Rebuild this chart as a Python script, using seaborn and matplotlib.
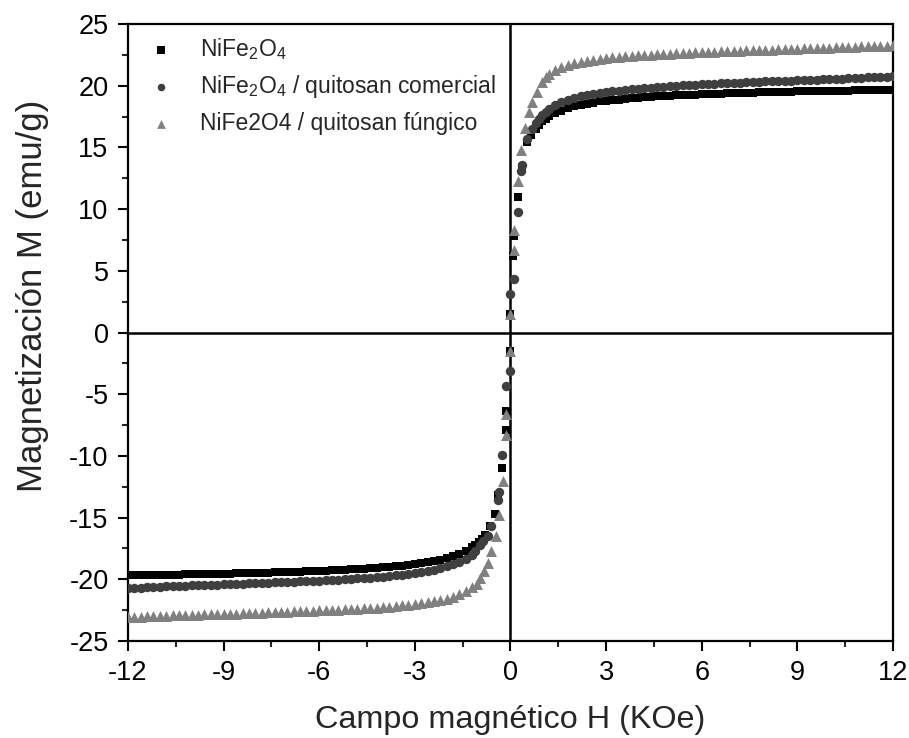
import matplotlib
matplotlib.use("Agg")
import matplotlib.pyplot as plt
from matplotlib.ticker import MultipleLocator
import seaborn as sns
import pandas as pd

# ---------------- data ----------------
labels = [r"NiFe$_2$O$_4$",
          r"NiFe$_2$O$_4$ / quitosan comercial",
          "NiFe2O4 / quitosan fúngico"]

# high-field grid (kOe)
H_hi_pos = [1.2, 1.4, 1.6, 1.8, 2.0, 2.2, 2.4, 2.6, 2.8, 3.0, 3.2, 3.4, 3.6, 3.8, 4.0,
            4.2, 4.4, 4.6, 4.8, 5.0, 5.2, 5.4, 5.6, 5.8, 6.0, 6.2, 6.4, 6.6, 6.8, 7.0,
            7.2, 7.4, 7.6, 7.8, 8.0, 8.2, 8.4, 8.6, 8.8, 9.0, 9.2, 9.4, 9.6, 9.8, 10.0,
            10.2, 10.4, 10.6, 10.8, 11.0, 11.2, 11.4, 11.6, 11.8, 12.0]
H_hi_neg = [-1.2, -1.4, -1.6, -1.8, -2.0, -2.2, -2.4, -2.6, -2.8, -3.0, -3.2, -3.4, -3.6, -3.8, -4.0,
            -4.2, -4.4, -4.6, -4.8, -5.0, -5.2, -5.4, -5.6, -5.8, -6.0, -6.2, -6.4, -6.6, -6.8, -7.0,
            -7.2, -7.4, -7.6, -7.8, -8.0, -8.2, -8.4, -8.6, -8.8, -9.0, -9.2, -9.4, -9.6, -9.8, -10.0,
            -10.2, -10.4, -10.6, -10.8, -11.0, -11.2, -11.4, -11.6, -11.8, -12.0]

# NiFe2O4 (black squares)
s1_H_low_pos = [0.0, 0.09, 0.12, 0.23, 0.35, 0.53, 0.65, 0.8, 0.9, 1.0, 1.1]
s1_M_low_pos = [1.5, 6.2, 7.8, 11.0, 13.4, 15.4, 16.0, 16.5, 16.8, 17.1, 17.3]
s1_H_low_neg = [-0.02, -0.13, -0.15, -0.27, -0.38, -0.5, -0.65, -0.8, -0.9, -1.0, -1.1]
s1_M_low_neg = [-1.5, -6.4, -7.9, -11.0, -13.2, -14.7, -15.7, -16.4, -16.7, -17.0, -17.2]
s1_M_hi_pos = [17.52, 17.77, 17.97, 18.17, 18.33, 18.43, 18.53, 18.63, 18.73, 18.78, 18.83, 18.88, 18.93, 18.98, 19.04,
               19.07, 19.1, 19.14, 19.16, 19.19, 19.21, 19.24, 19.26, 19.28, 19.3, 19.32, 19.34, 19.36, 19.37, 19.39,
               19.41, 19.42, 19.44, 19.45, 19.46, 19.48, 19.49, 19.5, 19.52, 19.53, 19.54, 19.55, 19.56, 19.57, 19.58,
               19.59, 19.6, 19.61, 19.62, 19.63, 19.64, 19.65, 19.66, 19.67, 19.68]
s1_M_hi_neg = [-17.42, -17.72, -17.92, -18.12, -18.28, -18.43, -18.53, -18.63, -18.71, -18.78, -18.83, -18.89, -18.94, -18.99, -19.04,
               -19.08, -19.11, -19.14, -19.17, -19.2, -19.22, -19.24, -19.27, -19.29, -19.31, -19.33, -19.35, -19.37, -19.38, -19.4,
               -19.42, -19.43, -19.45, -19.46, -19.47, -19.49, -19.5, -19.51, -19.53, -19.54, -19.55, -19.56, -19.57, -19.58, -19.59,
               -19.6, -19.61, -19.62, -19.63, -19.64, -19.65, -19.66, -19.67, -19.68, -19.69]

# NiFe2O4 / quitosan comercial (dark grey circles)
s2_H_low_pos = [0.0, 0.12, 0.25, 0.33, 0.35, 0.52, 0.68, 0.8, 0.9, 1.0, 1.1]
s2_M_low_pos = [3.1, 4.3, 9.8, 13.1, 13.6, 15.7, 16.5, 17.0, 17.3, 17.6, 17.9]
s2_H_low_neg = [-0.01, -0.14, -0.27, -0.37, -0.39, -0.6, -0.72, -0.85, -0.97, -1.1]
s2_M_low_neg = [-3.1, -4.3, -9.9, -12.9, -13.6, -15.7, -16.5, -16.9, -17.2, -17.7]
s2_M_hi_pos = [18.12, 18.43, 18.68, 18.88, 19.04, 19.14, 19.24, 19.34, 19.41, 19.48, 19.54, 19.6, 19.66, 19.71, 19.76,
               19.8, 19.85, 19.89, 19.93, 19.96, 19.99, 20.02, 20.05, 20.08, 20.11, 20.13, 20.16, 20.18, 20.21, 20.23,
               20.25, 20.28, 20.3, 20.32, 20.34, 20.36, 20.38, 20.4, 20.42, 20.44, 20.46, 20.48, 20.5, 20.52, 20.54,
               20.56, 20.58, 20.6, 20.62, 20.64, 20.67, 20.69, 20.71, 20.73, 20.75]
s2_M_hi_neg = [-18.02, -18.33, -18.58, -18.78, -18.93, -19.09, -19.21, -19.31, -19.39, -19.47, -19.54, -19.61, -19.67, -19.73, -19.78,
               -19.82, -19.87, -19.9, -19.93, -19.96, -19.99, -20.02, -20.05, -20.07, -20.1, -20.12, -20.14, -20.16, -20.18, -20.2,
               -20.22, -20.24, -20.26, -20.28, -20.3, -20.32, -20.34, -20.36, -20.38, -20.4, -20.42, -20.44, -20.46, -20.48, -20.5,
               -20.52, -20.54, -20.56, -20.58, -20.6, -20.62, -20.64, -20.67, -20.69, -20.71]

# NiFe2O4 / quitosan fungico (grey triangles)
s3_H_low_pos = [0.0, 0.1, 0.12, 0.25, 0.34, 0.44, 0.57, 0.69, 0.82, 0.98, 1.1]
s3_M_low_pos = [1.5, 6.7, 8.3, 12.3, 14.8, 16.6, 17.9, 18.7, 19.5, 20.3, 20.7]
s3_H_low_neg = [-0.02, -0.13, -0.14, -0.25, -0.35, -0.47, -0.6, -0.7, -0.82, -0.95, -1.05]
s3_M_low_neg = [-1.5, -6.6, -8.3, -12.0, -14.8, -16.5, -17.7, -18.7, -19.3, -19.9, -20.4]
s3_M_hi_pos = [20.96, 21.26, 21.52, 21.69, 21.82, 21.92, 22.02, 22.1, 22.17, 22.23, 22.29, 22.34, 22.38, 22.42, 22.46,
               22.49, 22.52, 22.55, 22.58, 22.6, 22.63, 22.65, 22.68, 22.7, 22.72, 22.74, 22.76, 22.78, 22.8, 22.82,
               22.84, 22.86, 22.88, 22.9, 22.91, 22.93, 22.95, 22.97, 22.98, 23.0, 23.02, 23.03, 23.05, 23.07, 23.09,
               23.11, 23.13, 23.14, 23.16, 23.18, 23.19, 23.21, 23.23, 23.24, 23.26]
s3_M_hi_neg = [-20.66, -20.96, -21.21, -21.41, -21.57, -21.69, -21.79, -21.87, -21.94, -22.0, -22.06, -22.11, -22.16, -22.21, -22.25,
               -22.29, -22.32, -22.35, -22.38, -22.4, -22.43, -22.45, -22.48, -22.5, -22.52, -22.54, -22.56, -22.58, -22.6, -22.62,
               -22.64, -22.66, -22.68, -22.7, -22.71, -22.73, -22.75, -22.77, -22.78, -22.8, -22.82, -22.83, -22.85, -22.87, -22.88,
               -22.9, -22.92, -22.93, -22.95, -22.97, -22.98, -23.0, -23.02, -23.05, -23.07]

colors = ["#000000", "#3f3f3f", "#808080"]
markers = ["s", "o", "^"]
msizes = [40, 46, 62]

# ---------------- build tidy tables ----------------
series = [
    (s1_H_low_neg + H_hi_neg + s1_H_low_pos + H_hi_pos, s1_M_low_neg + s1_M_hi_neg + s1_M_low_pos + s1_M_hi_pos),
    (s2_H_low_neg + H_hi_neg + s2_H_low_pos + H_hi_pos, s2_M_low_neg + s2_M_hi_neg + s2_M_low_pos + s2_M_hi_pos),
    (s3_H_low_neg + H_hi_neg + s3_H_low_pos + H_hi_pos, s3_M_low_neg + s3_M_hi_neg + s3_M_low_pos + s3_M_hi_pos),
]
frames = [pd.DataFrame({"H": hh, "M": mm, "Muestra": lab}) for lab, (hh, mm) in zip(labels, series)]

# ---------------- plot ----------------
sns.set_style("ticks")
plt.rcParams["font.family"] = ["Liberation Sans", "DejaVu Sans"]
plt.rcParams["mathtext.fontset"] = "custom"
plt.rcParams["mathtext.rm"] = "Liberation Sans"
plt.rcParams["mathtext.it"] = "Liberation Sans"
plt.rcParams["axes.unicode_minus"] = False

fig = plt.figure(figsize=(9.09, 7.38), dpi=100)
ax = fig.add_axes([0.1408, 0.1314, 0.8416, 0.8361])

ax.axhline(0, color="black", lw=1.8, zorder=1)
ax.axvline(0, color="black", lw=1.8, zorder=1)

for i, df in enumerate(frames):
    sns.scatterplot(data=df, x="H", y="M", ax=ax, color=colors[i], marker=markers[i],
                    s=msizes[i], linewidth=0, label=labels[i], zorder=3 + i)

ax.set_xlim(-12, 12)
ax.set_ylim(-25, 25)
ax.xaxis.set_major_locator(MultipleLocator(3))
ax.xaxis.set_minor_locator(MultipleLocator(1.5))
ax.yaxis.set_major_locator(MultipleLocator(5))
ax.yaxis.set_minor_locator(MultipleLocator(2.5))
ax.tick_params(which="major", direction="out", length=7, width=1.5, labelsize=19.5,
               top=False, right=False, color="black", labelcolor="black", pad=7)
ax.tick_params(which="minor", direction="out", length=4, width=1.5, top=False, right=False)
for sp in ax.spines.values():
    sp.set_linewidth(1.6)
    sp.set_color("black")

ax.set_xlabel("Campo magnético H (KOe)", fontsize=23.3, labelpad=13)
ax.set_ylabel("Magnetización M (emu/g)", fontsize=25)
ax.yaxis.set_label_coords(-0.103, 0.56)

leg = ax.legend(loc="upper left", frameon=False, fontsize=16.5, handletextpad=0.7,
                borderaxespad=0.3, labelspacing=0.5, markerscale=0.8,
                bbox_to_anchor=(-0.008, 1.007))

fig.savefig("out.png", dpi=100)
